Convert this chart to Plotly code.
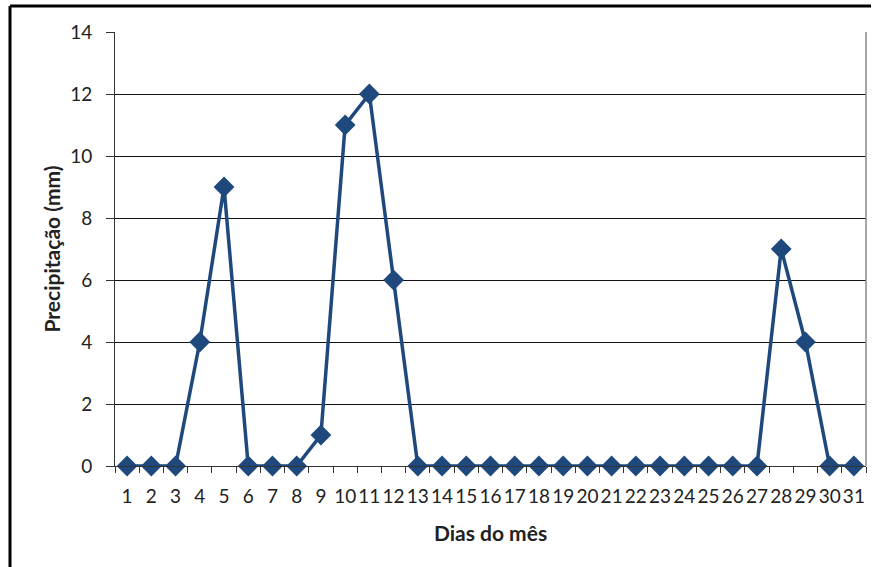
import plotly.graph_objects as go

dias = [str(d) for d in range(1, 32)]
precipitacao = [0, 0, 0, 4, 9, 0, 0, 0, 1, 11, 12, 6, 0, 0, 0, 0, 0, 0, 0, 0,
                0, 0, 0, 0, 0, 0, 0, 7, 4, 0, 0]
y_ticks = [0, 2, 4, 6, 8, 10, 12, 14]

color = "#1F497D"
font_family = "Lato, sans-serif"

fig = go.Figure()
fig.add_trace(go.Scatter(
    x=dias, y=precipitacao, mode="lines+markers",
    line=dict(color=color, width=3.5),
    marker=dict(symbol="diamond", size=16, color=color),
    showlegend=False, cliponaxis=False,
))

fig.update_layout(
    width=879, height=567,
    margin=dict(l=115, r=13, t=32, b=101),
    paper_bgcolor="white", plot_bgcolor="white",
    font=dict(family=font_family, size=19, color="#222"),
    xaxis=dict(
        type="category", tickson="boundaries", tickangle=0, automargin=False,
        ticks="outside", ticklen=6, tickcolor="#333", tickwidth=1,
        showline=True, linecolor="#333", linewidth=1,
        showgrid=False, tickfont=dict(size=19), ticklabelstandoff=13,
        title=dict(text="<b>Dias do mês</b>", font=dict(size=21), standoff=20),
        range=[-0.5, 30.5],
    ),
    yaxis=dict(
        range=[0, 14], tickvals=y_ticks, automargin=False,
        ticks="outside", ticklen=8, tickcolor="#333", tickwidth=1,
        showline=True, linecolor="#333", linewidth=1,
        showgrid=True, gridcolor="#111", gridwidth=1,
        zeroline=False, tickfont=dict(size=19), ticklabelstandoff=10,
        title=dict(text="<b>Precipitação (mm)</b>", font=dict(size=21), standoff=3),
    ),
    shapes=[
        dict(type="line", xref="paper", yref="paper", x0=1, x1=1, y0=0, y1=1,
             line=dict(color="#888", width=1.5)),
        dict(type="line", xref="paper", yref="paper",
             x0=-105/751, x1=(871-115)/751, y0=(567-101-6)/434, y1=(567-101-6)/434,
             line=dict(color="black", width=3)),
        dict(type="line", xref="paper", yref="paper",
             x0=-105/751, x1=-105/751, y0=(567-101-6)/434, y1=-101/434,
             line=dict(color="black", width=3)),
    ],
)

fig.write_html("out.html", config={"displayModeBar": False},
               post_script="document.body.style.margin='0px';")
